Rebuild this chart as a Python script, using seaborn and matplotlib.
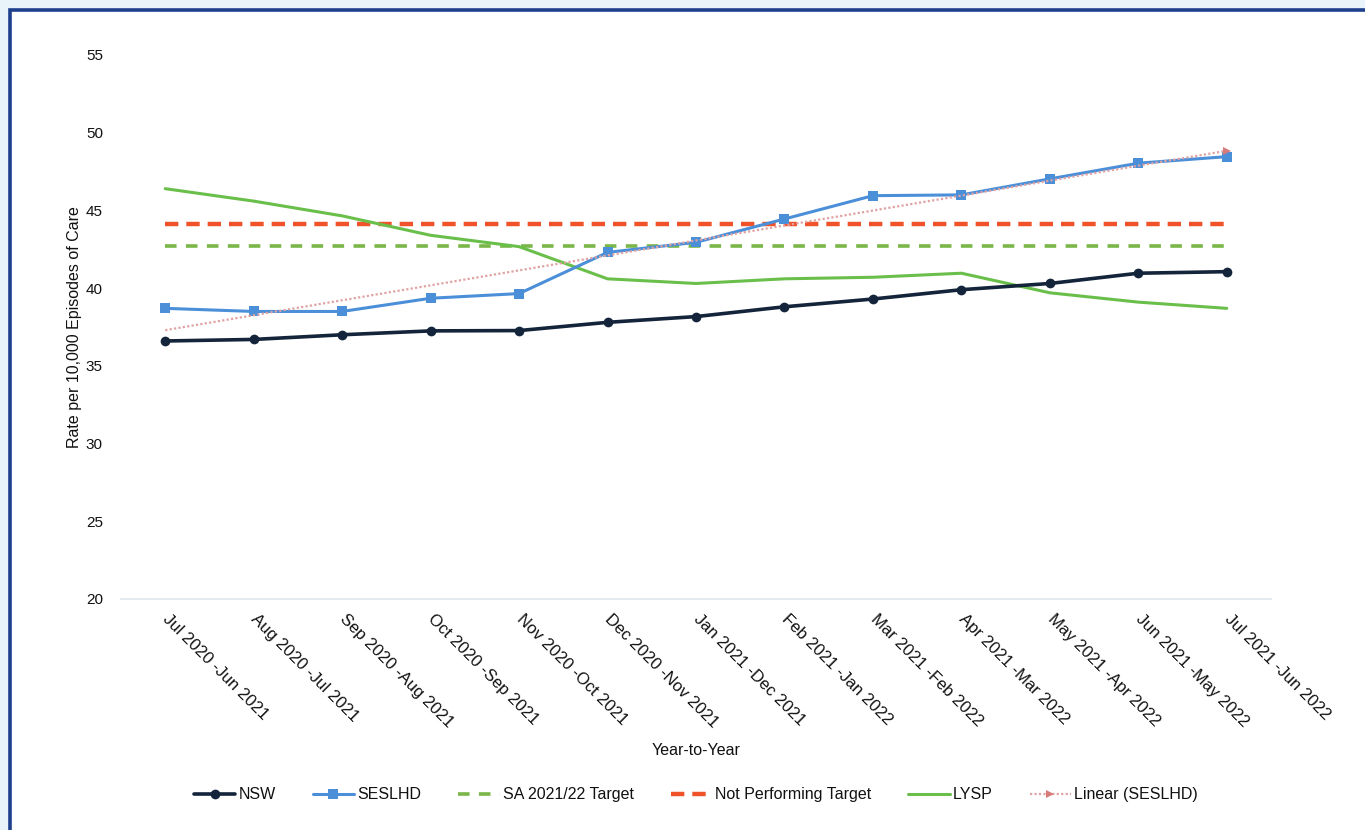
import numpy as np
import pandas as pd
import matplotlib
matplotlib.use("Agg")
import matplotlib.pyplot as plt
from matplotlib.patches import Rectangle
import seaborn as sns

categories = ["Jul 2020 -Jun 2021", "Aug 2020 -Jul 2021", "Sep 2020 -Aug 2021",
              "Oct 2020 -Sep 2021", "Nov 2020 -Oct 2021", "Dec 2020 -Nov 2021",
              "Jan 2021 -Dec 2021", "Feb 2021 -Jan 2022", "Mar 2021 -Feb 2022",
              "Apr 2021 -Mar 2022", "May 2021 -Apr 2022", "Jun 2021 -May 2022",
              "Jul 2021 -Jun 2022"]
nsw = [36.6, 36.7, 37.0, 37.25, 37.27, 37.8, 38.17, 38.8, 39.3, 39.9, 40.3, 40.96, 41.06]
seslhd = [38.7, 38.5, 38.5, 39.35, 39.65, 42.3, 42.95, 44.45, 45.95, 46.0, 47.03, 48.04, 48.46]
sa_target = [42.7] * 13
not_performing = [44.1] * 13
lysp = [46.4, 45.6, 44.65, 43.4, 42.67, 40.6, 40.3, 40.6, 40.7, 40.96, 39.7, 39.1, 38.7]

# Excel linear trendline of SESLHD
idx = np.arange(len(categories))
coef = np.polyfit(idx, seslhd, 1)
linear = list(np.polyval(coef, idx))

sns.set_style("white")
plt.rcParams['font.family'] = ['Liberation Sans', 'DejaVu Sans']

TXT = "#111111"

fig = plt.figure(figsize=(13.65, 8.3), dpi=100)
fig.patch.set_facecolor("#e8f3fa")
fig.patches.append(Rectangle((9.5 / 1365, -0.05), 1.2, 1 - 10.5 / 830 + 0.05,
                             transform=fig.transFigure, facecolor="white",
                             edgecolor="#1d3f8c", linewidth=2.6, zorder=-5))

ax = fig.add_axes([121 / 1365, 1 - 599 / 830, 1150 / 1365, 544 / 830])
ax.set_facecolor("white")
ax.set_zorder(2)

sns.lineplot(x=categories, y=sa_target, ax=ax, color="#7ab648", linewidth=2.6,
             linestyle=(0, (3.2, 2.6)), label="SA 2021/22 Target", sort=False)
sns.lineplot(x=categories, y=not_performing, ax=ax, color="#f0522a", linewidth=3.2,
             linestyle=(0, (3, 1.8)), label="Not Performing Target", sort=False)
sns.lineplot(x=categories, y=lysp, ax=ax, color="#6abf4b", linewidth=2.2,
             label="LYSP", sort=False)
sns.lineplot(x=categories, y=nsw, ax=ax, color="#14243a", linewidth=2.6,
             marker="o", markersize=7, markeredgewidth=0, label="NSW", sort=False)
sns.lineplot(x=categories, y=seslhd, ax=ax, color="#4b8fd9", linewidth=2.2,
             marker="s", markersize=7, markeredgewidth=0, label="SESLHD", sort=False)
sns.lineplot(x=categories, y=linear, ax=ax, color="#e0a2a2", linewidth=1.6,
             linestyle=(0, (1, 1)), marker=">", markersize=6, markevery=[12],
             markeredgewidth=0, markerfacecolor="#d87a7a", label="Linear (SESLHD)", sort=False)

ax.set_xlim(-0.5, 12.5)
ax.set_ylim(20, 55)
ax.set_yticks(np.arange(20, 56, 5))
ax.set_yticklabels([str(v) for v in range(20, 56, 5)])
ax.tick_params(axis="y", length=0, labelsize=11, pad=13, labelcolor=TXT)
ax.set_xticks(idx)
ax.set_xticklabels(categories, rotation=-45, ha="left", va="center",
                   rotation_mode="anchor", fontsize=12, color=TXT)
ax.tick_params(axis="x", which="major", length=0, pad=13)
ax.set_xticks(np.arange(-0.5, 13, 1), minor=True)
ax.tick_params(axis="x", which="minor", length=5, color="#e3e9f0", width=1)

for s in ["left", "top", "right"]:
    ax.spines[s].set_visible(False)
ax.spines["bottom"].set_color("#dfe6ee")
ax.spines["bottom"].set_linewidth(1.2)

ax.set_ylabel("Rate per 10,000 Episodes of Care", fontsize=11.5, color=TXT)
ax.yaxis.set_label_coords(-0.034, 0.5)
ax.set_xlabel("Year-to-Year", fontsize=11.5, color=TXT)
ax.xaxis.set_label_coords(0.5, -0.265)

handles, labels = ax.get_legend_handles_labels()
order = ["NSW", "SESLHD", "SA 2021/22 Target", "Not Performing Target", "LYSP", "Linear (SESLHD)"]
hmap = dict(zip(labels, handles))
leg = ax.legend([hmap[k] for k in order], order, loc="center", bbox_to_anchor=(0.5, -0.36),
                ncol=6, frameon=False, fontsize=11.5, handlelength=2.6, columnspacing=2.3,
                handletextpad=0.2)
for t in leg.get_texts():
    t.set_color(TXT)

fig.savefig("out.png", dpi=100, facecolor=fig.get_facecolor())
